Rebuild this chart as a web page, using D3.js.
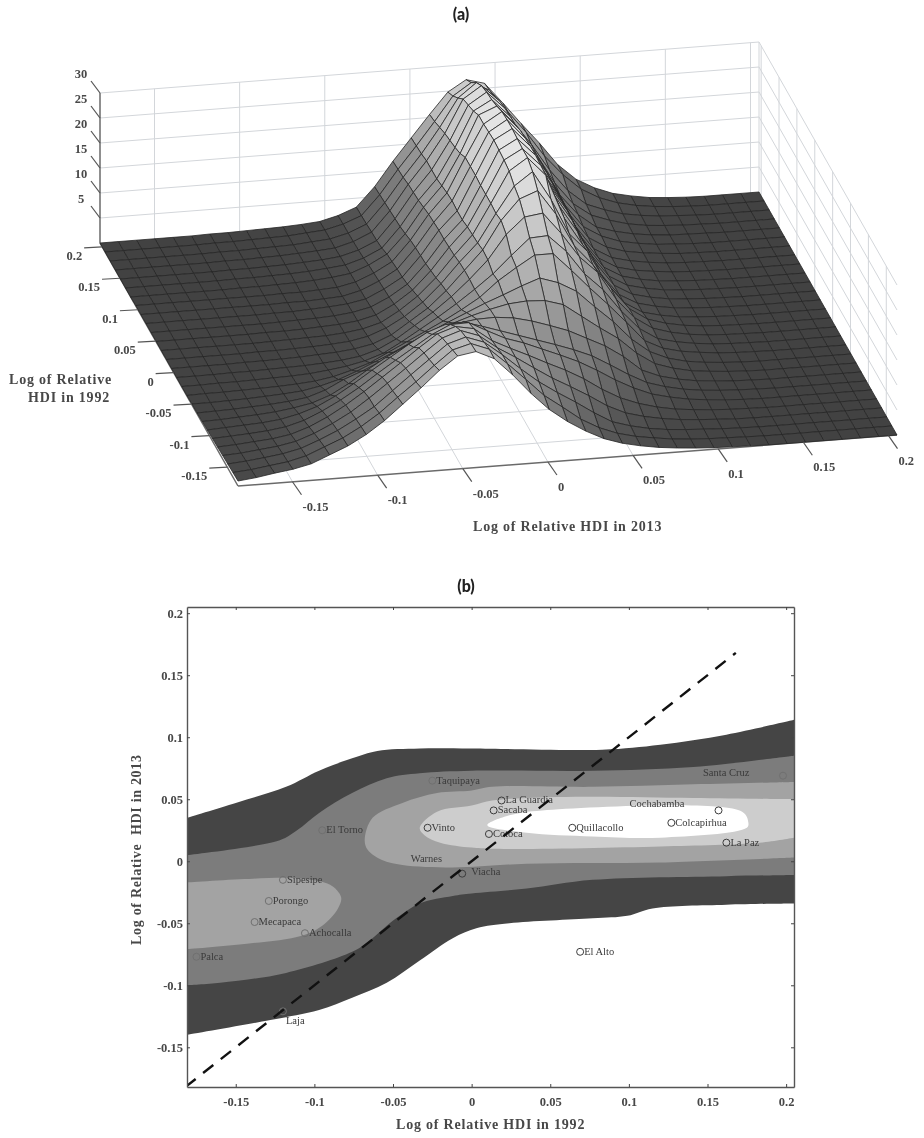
<!DOCTYPE html>
<html><head><meta charset="utf-8">
<script src="https://cdnjs.cloudflare.com/ajax/libs/d3/7.8.5/d3.min.js"></script>
<style>
html,body{margin:0;padding:0;background:#fff}
svg{display:block;filter:blur(0.45px)}
text{font-family:"Liberation Serif",serif;font-weight:700;fill:#484848}
.title{font-family:Lato,sans-serif;font-size:16px;font-weight:900;fill:#222}
.place{font-weight:400;font-size:10.5px;fill:#3a3a3a}
</style></head><body><svg id="c" width="924" height="1138"></svg>
<script>
// ---- panel (a): surface heights, one list per 1992 grid row (front to back); missing trailing cells are 0
const xDomain=[-0.182,0.205], yDomain=[-0.18,0.206];
const surfaceZ=[
[1,1.4,2,2.5,3.3,4.8,6.3,8.3,10.8,13.8,16.8,20,22.6,23.2,21.5,18,14,10.5,7.8,5.6,3.8,2.6,1.8,1.2,.8,.5,.3,.2,.1],
[.9,1.2,1.7,2.2,3.1,4.6,6.1,8.1,10.5,13.4,16.2,19.2,22,23,21.6,18.4,15,11.5,8.9,6.2,4.2,2.8,1.9,1.3,.8,.5,.3,.2,.1],
[.8,1.1,1.5,2,2.8,4.2,5.8,7.8,10,12.9,15.8,18.6,21.4,22.5,21.2,18.4,15.3,12.4,10,7.8,5.4,3.3,2.2,1.4,.9,.6,.4,.2,.1],
[.7,.9,1.3,1.7,2.4,3.7,5.4,7.4,9.9,12.6,15.3,18.1,20.8,22,20.7,18,15.8,13.4,11.1,9.1,7,4.7,3,2,1.3,.8,.5,.3,.1],
[.6,.8,1.1,1.4,2,3.2,4.9,7,9.4,12,14.6,17.3,19.8,21,20.3,17.6,15.8,14.1,12.3,10.6,8.6,6.2,4.2,2.8,1.8,1.1,.7,.4,.2,.1],
[.5,.7,.9,1.2,1.7,2.7,4.3,6.2,8.4,10.9,13.3,15.6,17.9,19.6,19.7,17.8,16,14.8,13.3,11.8,10.2,8.2,6,4.1,2.6,1.7,1,.6,.3,.1],
[.4,.6,.8,1,1.4,2.2,3.4,5.2,7.4,9.8,12.1,14.4,16.5,17.8,18,16.9,15.7,14.5,13.3,12.1,10.8,9.3,7.2,5,3.1,2,1.2,.7,.4,.2,.1],
[.3,.4,.6,.8,1.1,1.6,2.3,3.6,5.6,8,10.2,12,13.8,15.1,16,16.5,16.6,16.2,15.3,14.1,12.8,11,9.2,6.8,3.8,2.3,1.4,.8,.5,.2,.1],
[.2,.3,.4,.6,.8,1.1,1.6,2.8,4.6,6,7.6,9.4,11.2,12.8,14.2,15.4,16.4,17.2,17.5,17.3,16.2,13.6,11,8.6,5.4,3,1.8,1,.6,.3,.1],
[.2,.2,.3,.4,.6,.8,1.1,1.8,2.8,4.2,5.8,7.4,9.2,10.9,12.6,14.2,15.8,17.2,18.7,20,18.8,16.8,13.4,10.2,6.4,3.6,2,1.1,.6,.3,.1],
[.1,.2,.2,.3,.4,.5,.7,1,1.6,2.6,3.8,5.6,7.4,9.2,11,13,15.2,18.2,20.6,22.8,22.8,19.2,15.4,11.8,8,4,2.2,1.3,.8,.4,.2,.1],
[.1,.1,.2,.2,.3,.4,.5,.7,1.1,1.6,2.4,3.6,5.6,7.8,10,12.4,15,17.8,21.2,24.4,24.6,21.2,16.4,13,8.4,4.6,2.3,1.4,.8,.4,.2,.1],
[.1,.1,.1,.2,.2,.3,.4,.5,.7,1,1.5,2.6,4.4,6.8,9.2,12,15.2,18.8,23.6,26.8,27.3,23,18,14.6,9,5,2.6,1.5,.8,.4,.2,.1],
[.1,.1,.1,.1,.2,.2,.3,.4,.6,.8,1.2,1.9,3.4,5.8,8.2,11.4,15.2,19,24.6,28.6,30,25,18.4,14.4,9.4,5,2.6,1.5,.8,.4,.2,.1],
[.1,.1,.1,.1,.1,.2,.2,.3,.4,.6,.9,1.6,3,5,7.6,11,15,18.6,24.2,29.4,32,26.2,19,15.2,8.8,4.4,2.2,1.3,.7,.4,.2,.1],
[.1,.1,.1,.1,.1,.1,.2,.3,.4,.5,.8,1.3,2.3,4.4,7,10.4,14.6,18.4,24.4,30.6,33,29.2,20.4,14.8,8.6,4.2,2.2,1.3,.7,.4,.2,.1],
[.1,.1,.1,.1,.1,.1,.2,.2,.3,.5,.7,1.1,2,3.9,6.4,10,14.4,18.2,24.4,31,33,29.4,21,15.6,9,4.3,2.2,1.3,.7,.4,.2,.1],
[.1,.1,.1,.1,.1,.1,.1,.2,.3,.4,.6,1,1.8,3.5,5.8,9.6,14.2,17.8,24.4,31.2,33.2,29.6,21.4,16,9,4.3,2.2,1.3,.7,.4,.2,.1],
[.1,.1,.1,.1,.1,.1,.1,.2,.2,.4,.6,.9,1.6,3.3,5.4,9.4,14.2,17.8,24.6,31.4,33.4,29.6,21.6,16.2,9,4.3,2.2,1.3,.7,.4,.2,.1],
[.1,.1,.1,.1,.1,.1,.1,.1,.2,.2,.4,.6,1.5,3.1,5.2,9.2,14,18,24.6,31.2,33.4,29.4,21.6,16.2,9,4.3,2.2,1.3,.8,.4,.2,.1],
[.1,.1,.1,.1,.1,.1,.1,.1,.2,.2,.4,.6,1.4,2.9,4.9,8.9,13.8,17.8,24.6,31,33.2,29.2,21.6,16.2,9.2,4.4,2.3,1.4,.8,.4,.2,.1],
[0,0,0,0,0,0,.1,.1,.2,.3,.5,.8,1.3,2.7,4.6,8.4,13.4,17.4,23.6,31,32.5,28.6,21.8,16.4,9.6,4.8,2.6,1.5,.9,.5,.2,.1],
[0,0,0,0,0,0,.1,.1,.2,.3,.5,.8,1.2,2.3,4,8,13,17,23,30,32,28.4,21.8,16.6,9.8,5.2,3,1.7,1,.5,.3,.1],
[0,0,0,0,0,0,.1,.1,.2,.3,.5,.7,1.1,2.1,3.7,7.8,12.8,17,22.6,29.4,31.7,28.2,21.6,16.6,10,5.8,3,1.9,1.1,.6,.3,.2,.1],
[0,0,0,0,0,0,.1,.1,.2,.3,.5,.7,1,2,3.6,7.6,12.6,17,22.2,28.8,31.2,27.8,21.4,16.6,10.6,6.2,3.6,2.3,1.3,.7,.4,.2,.1],
[0,0,0,0,0,0,.1,.1,.2,.3,.4,.7,1,1.9,3.4,7.4,12.2,16.6,21.6,27.2,30,27,21.6,16.8,11.4,7,4,2.6,1.5,.9,.5,.3,.1],
[0,0,0,0,0,0,.1,.1,.2,.3,.4,.7,1,1.9,3.3,7.2,12,16.4,21,25.8,28.2,26.4,21.8,17.4,12.4,8.4,5.2,3.2,1.9,1.1,.6,.3,.1],
[0,0,0,0,0,0,.1,.1,.2,.3,.4,.6,.9,1.8,3.2,7,11.8,16.2,20.6,24.8,27,26,21.8,17.4,13.2,8.6,5.4,3.4,2,1.2,.6,.3,.1]
];
const xTicksA=[-0.15,-0.1,-0.05,0,0.05,0.1,0.15,0.2];
const yTicksA=[-0.15,-0.1,-0.05,0,0.05,0.1,0.15,0.2];
const zTicksA=[5,10,15,20,25,30];

// ---- panel (b): filled contour outlines [HDI 1992, HDI 2013]
const outerUpper=[[-.181,.035],[-.15,.047],[-.118,.06],[-.097,.073],[-.076,.083],[-.06,.089],[-.033,.091],[0,.091],[.083,.09],[.12,.094],[.162,.102],[.205,.114]];
const outerLower=[[-.181,-.14],[-.128,-.128],[-.097,-.12],[-.076,-.11],[-.054,-.098],[-.033,-.08],[-.012,-.062],[.003,-.054],[.024,-.05],[.077,-.046],[.099,-.044],[.115,-.038],[.162,-.035],[.205,-.034]];
const midUpper=[[-.181,.005],[-.122,.017],[-.111,.025],[-.097,.039],[-.076,.055],[-.054,.067],[-.033,.071],[0,.073],[.077,.073],[.141,.076],[.205,.085]];
const midLower=[[-.181,-.1],[-.16,-.098],[-.118,-.09],[-.076,-.073],[-.065,-.064],[-.048,-.046],[-.033,-.034],[-.012,-.028],[0,-.026],[.035,-.022],[.077,-.015],[.162,-.012],[.205,-.011]];
const leftLobe=[[-.181,-.017],[-.139,-.014],[-.108,-.014],[-.09,-.019],[-.083,-.029],[-.085,-.038],[-.095,-.052],[-.108,-.06],[-.139,-.066],[-.181,-.071]];
const centerLobe=[[.205,.003],[.12,-.001],[.035,-.002],[-.012,-.005],[-.044,-.003],[-.057,.001],[-.066,.009],[-.068,.017],[-.063,.035],[-.044,.047],[-.022,.055],[0,.057],[.013,.06],[.077,.06],[.141,.062],[.205,.064]];
const innerLobe=[[.205,.019],[.183,.015],[.12,.012],[.013,.01],[0,.011],[-.02,.015],[-.03,.021],[-.033,.027],[-.022,.04],[0,.045],[.013,.049],[.035,.051],[.077,.052],[.141,.051],[.205,.05]];
const coreLobe=[[.01,.029],[.024,.037],[.045,.041],[.172,.04],[.176,.031],[.175,.027],[.12,.019],[.077,.02],[.035,.023]];
const places=["La Guardia","Sacaba","Cotoca","Vinto","Taquipaya","El Torno","Warnes","Viacha","Quillacollo","Colcapirhua","Cochabamba","La Paz","Santa Cruz","Sipesipe","Porongo","Mecapaca","Achocalla","Palca","Laja","El Alto"];
const place1992=[.019,.014,.011,-.028,-.025,-.095,-.038,-.006,.064,.127,.157,.162,.198,-.12,-.129,-.138,-.106,-.175,-.12,.069];
const place2013=[.049,.041,.022,.027,.065,.025,.002,-.01,.027,.031,.041,.015,.069,-.015,-.032,-.049,-.058,-.077,-.121,-.073];
const tickLabelsB=["-0.15","-0.1","-0.05","0","0.05","0.1","0.15","0.2"];
const tickValuesB=[-0.15,-0.1,-0.05,0,0.05,0.1,0.15,0.2];

const svg=d3.select("#c");
svg.append("text").attr("class","title").attr("x",461).attr("y",20).attr("text-anchor","middle").text("(a)");
svg.append("text").attr("class","title").attr("x",466).attr("y",592).attr("text-anchor","middle").text("(b)");

// ---- (a) orthographic projection built from linear scales
const nRows=surfaceZ.length;
const uS=d3.scaleLinear().domain(xDomain).range([0,1]);
const vS=d3.scaleLinear().domain(yDomain).range([0,1]);
const pxU=d3.scaleLinear().domain([0,1]).range([0,659]);
const pxV=d3.scaleLinear().domain([0,1]).range([0,-138]);
const pyU=d3.scaleLinear().domain([0,1]).range([0,-51]);
const pyV=d3.scaleLinear().domain([0,1]).range([0,-243]);
const pz=d3.scaleLinear().domain([0,30]).range([0,-150]);
const P=(x,y,z)=>{const u=uS(x),v=vS(y);return [238+pxU(u)+pxV(v),486+pyU(u)+pyV(v)+pz(z)];};
const gridX=d3.scaleLinear().domain([0,36]).range(xDomain);
const gridY=d3.scaleLinear().domain([0,nRows-1]).range(yDomain);
const zAt=(i,j)=>surfaceZ[i][j]??0;
const grey=d3.scaleLinear().domain([0,5,15,33]).range([66,98,152,232]).clamp(true);
const a=svg.append("g");
const gridStroke="#d3d6da";
const seg=(g,p,q,st,w)=>g.append("line").attr("x1",p[0]).attr("y1",p[1]).attr("x2",q[0]).attr("y2",q[1]).attr("stroke",st).attr("stroke-width",w);
const [x0,x1]=xDomain,[y0,y1]=yDomain;
zTicksA.forEach(z=>{seg(a,P(x0,y1,z),P(x1,y1,z),gridStroke,1);seg(a,P(x1,y1,z),P(x1,y0,z),gridStroke,1);});
xTicksA.forEach(x=>{seg(a,P(x,y1,0),P(x,y1,30),gridStroke,1);seg(a,P(x,y0,0),P(x,y1,0),gridStroke,1);});
yTicksA.forEach(y=>{seg(a,P(x1,y,0),P(x1,y,30),gridStroke,1);seg(a,P(x0,y,0),P(x1,y,0),gridStroke,1);});
seg(a,P(x1,y1,0),P(x1,y1,30),gridStroke,1);
seg(a,P(x0,y0,0),P(x1,y0,0),"#6a6a6a",1.5);
seg(a,P(x0,y0,0),P(x0,y1,0),"#6a6a6a",1.5);
seg(a,P(x0,y1,0),P(x0,y1,30),"#6a6a6a",1.5);
// painter's order: far rows first, far columns first
const cells=[];
for(let i=nRows-2;i>=0;i--)for(let j=35;j>=0;j--)cells.push([i,j]);
const cellLine=d3.line();
a.append("g").selectAll("path").data(cells).join("path")
 .attr("d",([i,j])=>cellLine([
   P(gridX(j),gridY(i),zAt(i,j)),P(gridX(j+1),gridY(i),zAt(i,j+1)),
   P(gridX(j+1),gridY(i+1),zAt(i+1,j+1)),P(gridX(j),gridY(i+1),zAt(i+1,j))])+"Z")
 .attr("fill",([i,j])=>{const g=Math.round(grey((zAt(i,j)+zAt(i,j+1)+zAt(i+1,j)+zAt(i+1,j+1))/4));return `rgb(${g},${g},${g})`;})
 .attr("stroke","#262626").attr("stroke-width",.8).attr("stroke-linejoin","round");
// ticks and labels
const labA=(x,y,t,anchor)=>a.append("text").attr("x",x).attr("y",y).attr("font-size",12.5).attr("text-anchor",anchor||"middle").text(t);
zTicksA.forEach(z=>{const p=P(x0,y1,z);seg(a,p,[p[0]-9,p[1]-12],"#555",1.2);labA(p[0]-19,p[1]-15,String(z));});
xTicksA.forEach((x,k)=>{const p=P(x,y0,0);seg(a,p,[p[0]+9,p[1]+13],"#555",1.2);labA(p[0]+10,p[1]+29,tickLabelsB[k],"start");});
yTicksA.forEach((y,k)=>{const p=P(x0,y,0);seg(a,p,[p[0]-18,p[1]+1],"#555",1.2);labA(p[0]-20,p[1]+13,tickLabelsB[k],"end");});
const axT=(x,y,t,anchor)=>a.append("text").attr("x",x).attr("y",y).attr("font-size",14).attr("text-anchor",anchor).attr("letter-spacing",".8").text(t);
axT(9,384,"Log of Relative","start");axT(110,402,"HDI in 1992","end");axT(473,531,"Log of Relative HDI in 2013","start");

// ---- (b) filled contours
const bX=d3.scaleLinear().domain([-.181,.205]).range([187,794]);
const bY=d3.scaleLinear().domain([-.182,.205]).range([1087,607]);
const b=svg.append("g");
b.append("clipPath").attr("id","plotClip").append("rect").attr("x",187).attr("y",607).attr("width",607).attr("height",480);
const plot=b.append("g").attr("clip-path","url(#plotClip)");
const open=d3.line().x(d=>bX(d[0])).y(d=>bY(d[1])).curve(d3.curveCatmullRom.alpha(.5));
const closed=d3.line().x(d=>bX(d[0])).y(d=>bY(d[1])).curve(d3.curveCatmullRomClosed.alpha(.5));
const band=(up,lo)=>open(up)+"L"+open([...lo].reverse()).slice(1)+"Z";
plot.append("path").attr("d",band(outerUpper,outerLower)).attr("fill","#454545");
plot.append("path").attr("d",band(midUpper,midLower)).attr("fill","#7c7c7c");
plot.append("path").attr("d",open(leftLobe)+"Z").attr("fill","#a3a3a3");
plot.append("path").attr("d",open(centerLobe)+"Z").attr("fill","#a3a3a3");
plot.append("path").attr("d",open(innerLobe)+"Z").attr("fill","#cdcdcd");
plot.append("path").attr("d",closed(coreLobe)).attr("fill","#fff");
// placed cities
const labelOffset={"Cochabamba":[-89,-6],"Santa Cruz":[-80,-3],"Warnes":[-1,0],"Laja":[3,10],"Viacha":[9,-2]};
places.forEach((n,k)=>{
  const cx=bX(place1992[k]),cy=bY(place2013[k]);
  const light=cx<370||n==="Santa Cruz"||n==="Taquipaya"||n==="Laja";
  if(n!=="Warnes")plot.append("circle").attr("cx",cx).attr("cy",cy).attr("r",3.5).attr("fill","none").attr("stroke",light?"#707070":"#3c3c3c").attr("stroke-width",1);
  const o=labelOffset[n]||[4,0];
  plot.append("text").attr("class","place").attr("x",cx+o[0]).attr("y",cy+o[1]+3).text(n);
});
// 45-degree line
const diagDomain=[-.182,.168];
plot.append("path").attr("d",d3.line().x(d=>bX(d)).y(d=>bY(d))(diagDomain)).attr("fill","none").attr("stroke","#111").attr("stroke-width",2.4).attr("stroke-dasharray","13 9.5");
// frame and inward ticks
const mk=(ax,tr,lab)=>{const g=b.append("g").attr("transform",tr).call(ax.tickValues(tickValuesB).tickSizeOuter(0).tickSizeInner(-3).tickPadding(lab?10:0).tickFormat((d,k)=>lab?tickLabelsB[k]:""));
  g.selectAll("line").attr("stroke","#444");g.select(".domain").attr("stroke","#555").attr("stroke-width",1.4);
  g.selectAll("text").attr("font-size",12.5).attr("font-family",'"Liberation Serif",serif').attr("font-weight",700).attr("fill","#505050");return g;};
mk(d3.axisBottom(bX),"translate(0,1087)",true);
mk(d3.axisTop(bX),"translate(0,607)",false);
mk(d3.axisLeft(bY),"translate(187,0)",true).selectAll("text").attr("x",-4);
mk(d3.axisRight(bY),"translate(794,0)",false);
b.append("text").attr("x",396).attr("y",1129).attr("font-size",14).attr("letter-spacing",".8").text("Log of Relative HDI in 1992");
b.append("text").attr("transform","translate(141,945) rotate(-90)").attr("font-size",14).attr("letter-spacing",".7").style("white-space","pre").text("Log of Relative  HDI in 2013");
</script></body></html>
